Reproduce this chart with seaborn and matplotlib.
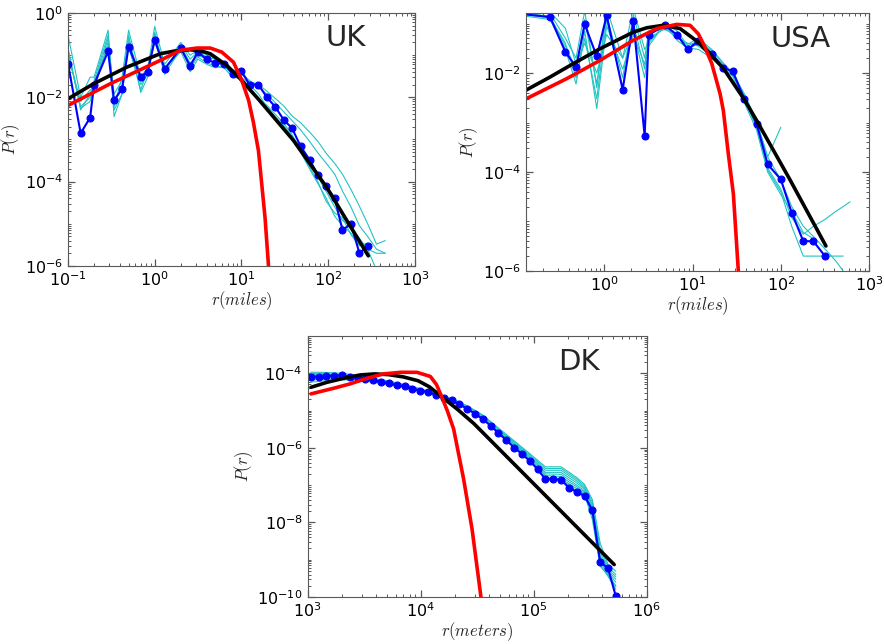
import numpy as np
import matplotlib
matplotlib.use('Agg')
import matplotlib.pyplot as plt
from matplotlib.ticker import LogLocator, NullFormatter
import seaborn as sns

sns.set_style('ticks', {'xtick.direction': 'in', 'ytick.direction': 'in',
                        'xtick.top': True, 'ytick.right': True,
                        'axes.edgecolor': '0.35'})
plt.rcParams['mathtext.fontset'] = 'cm'
plt.rcParams['font.family'] = ['DejaVu Sans']

CYAN = '#22c3c3'

# ---------------- UK (miles) ----------------
uk_r = [0.10, 0.14, 0.18, 0.20, 0.29, 0.34, 0.42, 0.50, 0.69, 0.83, 1.0, 1.3, 2.0, 2.56, 3.14,
        4.0, 5.0, 6.3, 7.9, 10.0, 12.4, 15.7, 19.6, 24.4, 30.8, 38.3, 48.0, 61.0, 76.0, 94.0,
        119.0, 146.0, 183.0, 229.0, 285.0, 360.0, 455.0]
uk_blue = [6.3e-2, 1.4e-3, 3.3e-3, 2.0e-2, 1.23e-1, 8.4e-3, 1.6e-2, 1.6e-1, 3.1e-2, 4.0e-2,
           2.3e-1, 4.7e-2, 1.47e-1, 5.5e-2, 1.18e-1, 7.9e-2, 6.5e-2, 6.3e-2, 3.6e-2, 4.1e-2,
           2.0e-2, 2.0e-2, 1.0e-2, 6.0e-3, 2.9e-3, 1.85e-3, 6.9e-4, 3.3e-4, 1.43e-4, 8.0e-5,
           4.0e-5, 7.1e-6, 1.0e-5, 2.0e-6, 3.0e-6]
uk_c1 = [3.0e-1, 1.0e-2, 3.0e-2, 3.0e-2, 3.9e-1, 6.0e-3, 3.0e-2, 3.9e-1, 3.0e-2, 5.0e-2,
         4.8e-1, 6.0e-2, 2.0e-1, 1.0e-1, 1.3e-1, 1.0e-1, 8.5e-2, 7.0e-2, 4.5e-2, 4.0e-2,
         2.4e-2, 2.0e-2, 1.4e-2, 9.5e-3, 6.2e-3, 3.6e-3, 2.5e-3, 1.5e-3, 9.0e-4, 4.8e-4,
         2.7e-4, 1.5e-4, 6.5e-5, 2.6e-5, 1.0e-5, 3.3e-6, 4.0e-6]
uk_c2 = [1.5e-1, 5.0e-3, 1.2e-2, 2.5e-2, 3.0e-1, 3.5e-3, 1.2e-2, 3.0e-1, 1.3e-2, 3.0e-2,
         3.5e-1, 4.0e-2, 1.8e-1, 8.0e-2, 1.2e-1, 9.0e-2, 8.0e-2, 6.5e-2, 3.5e-2, 3.5e-2,
         2.5e-2, 1.7e-2, 1.2e-2, 7.5e-3, 4.5e-3, 2.8e-3, 1.7e-3, 9.0e-4, 4.8e-4, 2.8e-4,
         1.5e-4, 6.0e-5, 2.5e-5, 9.0e-6, 5.0e-6, 2.5e-6, 2.0e-6]
uk_c3 = [1.3e-1, 5.5e-3, 8.0e-3, 2.0e-2, 2.5e-1, 8.0e-3, 1.8e-2, 2.5e-1, 2.0e-2, 3.5e-2,
         3.0e-1, 4.5e-2, 1.6e-1, 6.5e-2, 1.0e-1, 8.0e-2, 6.5e-2, 6.0e-2, 3.2e-2, 3.0e-2,
         2.0e-2, 1.2e-2, 6.0e-3, 3.5e-3, 2.1e-3, 1.2e-3, 6.5e-4, 2.6e-4, 1.3e-4, 6.0e-5,
         2.5e-5, 1.2e-5, 8.5e-6, 4.5e-6, 2.5e-6, 8.0e-7]
uk_c4 = [1.0e-1, 8.0e-3, 1.5e-2, 1.5e-2, 2.0e-1, 1.2e-2, 2.5e-2, 2.0e-1, 2.5e-2, 4.0e-2,
         2.5e-1, 3.5e-2, 1.4e-1, 5.0e-2, 9.0e-2, 6.5e-2, 5.5e-2, 5.0e-2, 3.0e-2, 2.8e-2,
         1.7e-2, 9.0e-3, 5.5e-3, 3.0e-3, 1.8e-3, 1.0e-3, 5.0e-4, 2.0e-4, 9.0e-5, 4.2e-5,
         1.5e-5, 9.0e-6, 6.0e-6, 3.2e-6, 2.5e-6, 2.0e-6, 2.0e-6]
uk_c5 = [1.2e-1, 6.0e-3, 1.0e-2, 2.2e-2, 1.6e-1, 5.0e-3, 1.2e-2, 1.6e-1, 1.5e-2, 4.5e-2,
         2.0e-1, 5.0e-2, 1.2e-1, 4.0e-2, 8.0e-2, 6.0e-2, 5.0e-2, 5.5e-2, 4.0e-2, 2.5e-2,
         1.5e-2, 8.5e-3, 6.5e-3, 4.0e-3, 2.4e-3, 1.3e-3, 5.5e-4, 2.2e-4, 1.0e-4, 3.5e-5,
         1.8e-5, 1.4e-5, 5.5e-6, 3.0e-6, 3.5e-6]
uk_fit_r = [0.10, 0.198, 0.478, 1.16, 1.7, 2.56, 3.3, 4.36, 6.78, 9.66, 15.7, 39.7, 96.0, 290.0]
uk_fit = [9.2e-3, 2.1e-2, 5.2e-2, 1.08e-1, 1.25e-1, 1.34e-1, 1.28e-1, 1.08e-1, 5.7e-2, 2.75e-2,
          9.0e-3, 9.5e-4, 7.3e-5, 1.74e-6]
uk_gauss_r = [0.10, 0.308, 1.16, 1.97, 3.06, 4.36, 5.93, 8.09, 10.1, 12.1, 13.7, 15.7, 18.7, 20.5, 21.5]
uk_gauss = [6.4e-3, 2.1e-2, 7.5e-2, 1.3e-1, 1.47e-1, 1.47e-1, 1.18e-1, 6.8e-2, 2.5e-2, 8.4e-3,
            2.6e-3, 5.4e-4, 1.4e-5, 1.0e-6, 2.0e-7]

# ---------------- USA (miles) ----------------
us_r = [0.10, 0.242, 0.361, 0.477, 0.598, 0.819, 1.06, 1.61, 2.13, 2.86, 3.18, 4.87, 6.72, 8.80,
        11.6, 16.5, 22.3, 28.5, 38.6, 53.2, 71.0, 100.0, 133.0, 180.0, 234.0, 317.0, 420.0,
        510.0, 610.0]
us_blue = [1.6e-1, 1.35e-1, 2.66e-2, 1.32e-2, 9.6e-2, 2.17e-2, 1.46e-1, 4.6e-3, 1.11e-1, 5.3e-4,
           5.9e-2, 9.2e-2, 5.8e-2, 3.0e-2, 4.4e-2, 2.46e-2, 1.28e-2, 1.08e-2, 3.0e-3, 9.5e-4,
           1.43e-4, 7.1e-5, 1.51e-5, 4.0e-6, 4.0e-6, 2.0e-6]
us_c1 = [1.8e-1, 1.6e-1, 5.0e-2, 2.0e-2, 1.8e-1, 5.0e-3, 2.0e-1, 2.0e-2, 2.0e-1, 3.0e-2,
         4.0e-2, 1.0e-1, 7.0e-2, 3.5e-2, 4.5e-2, 2.8e-2, 1.5e-2, 9.0e-3, 3.5e-3, 1.0e-3,
         2.0e-4, 8.0e-4]
us_c2 = [1.5e-1, 1.2e-1, 3.0e-2, 6.0e-3, 7.0e-2, 1.9e-3, 9.0e-2, 1.2e-2, 6.0e-2, 1.5e-2,
         5.0e-2, 8.0e-2, 5.0e-2, 4.0e-2, 3.5e-2, 2.2e-2, 1.4e-2, 9.5e-3, 2.8e-3, 8.0e-4,
         1.2e-4, 4.5e-5, 1.2e-5, 5.5e-6, 8.0e-6, 1.1e-5, 1.6e-5, 2.0e-5, 2.5e-5]
us_c3 = [1.7e-1, 1.4e-1, 3.5e-2, 1.2e-2, 1.2e-1, 6.0e-3, 1.5e-1, 8.0e-3, 1.5e-1, 2.0e-2,
         7.0e-2, 7.5e-2, 6.0e-2, 3.0e-2, 4.0e-2, 2.5e-2, 1.2e-2, 1.15e-2, 3.2e-3, 9.0e-4,
         1.1e-4, 4.0e-5, 8.0e-6, 2.0e-6, 2.0e-6, 2.0e-6, 2.0e-6, 2.0e-6]
us_c4 = [1.6e-1, 1.3e-1, 4.0e-2, 8.0e-3, 5.0e-2, 3.0e-3, 1.2e-1, 5.0e-3, 1.0e-1, 1.2e-2,
         4.5e-2, 8.5e-2, 5.5e-2, 3.8e-2, 5.0e-2, 3.0e-2, 1.6e-2, 1.0e-2, 3.8e-3, 1.1e-3,
         2.0e-4, 7.0e-5, 2.0e-5, 8.0e-6, 5.0e-6, 2.8e-6, 1.6e-6, 1.0e-6]
us_c5 = [2.0e-1, 1.7e-1, 8.0e-2, 1.5e-2, 4.0e-2, 1.0e-2, 6.0e-2, 2.0e-2, 7.0e-2, 8.0e-3,
         3.5e-2, 1.0e-1, 4.5e-2, 3.2e-2, 3.0e-2, 2.0e-2, 1.3e-2, 8.5e-3, 2.5e-3, 7.0e-4,
         1.0e-4, 3.5e-5, 1.6e-5, 6.0e-6, 4.5e-6]
us_fit_r = [0.129, 0.242, 0.445, 0.893, 2.13, 3.02, 4.67, 7.21, 11.6, 22.3, 38.6, 53.2, 127.0, 325.0]
us_fit = [4.5e-3, 8.3e-3, 1.55e-2, 3.1e-2, 6.7e-2, 8.2e-2, 9.2e-2, 7.9e-2, 4.2e-2, 1.25e-2,
          2.9e-3, 1.1e-3, 7.0e-5, 3.2e-6]
us_gauss_r = [0.129, 0.374, 0.893, 2.13, 3.92, 6.61, 9.35, 11.6, 13.8, 16.5, 20.5, 22.3, 25.4,
              29.0, 33.0, 34.0]
us_gauss = [3.0e-3, 7.7e-3, 1.8e-2, 4.6e-2, 7.9e-2, 9.6e-2, 9.2e-2, 6.2e-2, 3.35e-2, 1.55e-2,
            3.8e-3, 1.76e-3, 2.35e-4, 3.6e-5, 1.0e-6, 3.0e-7]

# ---------------- DK (meters) ----------------
dk_r = [1064, 1248, 1464, 1717, 2014, 2362, 2770, 3249, 3810, 4469, 5241, 6147, 7210, 8456, 9917,
        11630, 13640, 16000, 18760, 22000, 25800, 30270, 35500, 41630, 48830, 57270, 67160, 78770,
        92380, 108300, 127100, 149000, 174800, 205000, 240400, 282000, 330700, 387800, 454900,
        533500]
dk_blue = [8.1e-5, 8.1e-5, 8.65e-5, 8.5e-5, 8.8e-5, 8.1e-5, 7.5e-5, 7.0e-5, 6.5e-5, 5.85e-5,
           5.4e-5, 4.85e-5, 4.47e-5, 3.87e-5, 3.42e-5, 3.15e-5, 2.67e-5, 2.17e-5, 1.88e-5,
           1.47e-5, 1.12e-5, 8.2e-6, 5.9e-6, 3.9e-6, 2.48e-6, 1.61e-6, 1.02e-6, 6.8e-7, 4.47e-7,
           2.67e-7, 1.44e-7, 1.44e-7, 1.38e-7, 8.6e-8, 6.55e-8, 5.1e-8, 2.15e-8, 8.6e-10,
           6.0e-10, 1.04e-10]
dk_rc = [1064, 1464, 2014, 2770, 3810, 5241, 7210, 9917, 13640, 18760, 25800, 35500, 48830, 67160,
         92380, 127100, 174800, 240400, 282000, 330700, 387800, 454900, 533500]
dk_c1 = [1.07e-4, 1.05e-4, 1.0e-4, 8.8e-5, 7.3e-5, 6.2e-5, 5.0e-5, 3.9e-5, 2.9e-5, 2.1e-5, 1.35e-5,
         7.6e-6, 3.4e-6, 1.55e-6, 7.0e-7, 3.1e-7, 3.1e-7, 1.6e-7, 1.05e-7, 4.1e-8, 2.8e-9, 7.5e-10,
         4.9e-10]
dk_c2 = [9.8e-5, 9.7e-5, 9.3e-5, 8.2e-5, 6.9e-5, 5.9e-5, 4.8e-5, 3.7e-5, 2.8e-5, 2.05e-5, 1.3e-5,
         7.2e-6, 3.2e-6, 1.45e-6, 6.5e-7, 2.8e-7, 2.8e-7, 1.45e-7, 9.5e-8, 3.5e-8, 2.0e-9, 6.5e-10,
         4.0e-10]
dk_c3 = [9.2e-5, 9.2e-5, 9.0e-5, 8.0e-5, 6.8e-5, 5.7e-5, 4.6e-5, 3.6e-5, 2.75e-5, 2.0e-5, 1.25e-5,
         6.9e-6, 3.0e-6, 1.35e-6, 6.0e-7, 2.5e-7, 2.5e-7, 1.3e-7, 8.5e-8, 3.0e-8, 1.6e-9, 5.5e-10,
         3.5e-10]
dk_c4 = [8.6e-5, 8.8e-5, 8.6e-5, 7.7e-5, 6.6e-5, 5.5e-5, 4.5e-5, 3.5e-5, 2.7e-5, 1.95e-5, 1.2e-5,
         6.6e-6, 2.85e-6, 1.25e-6, 5.6e-7, 2.2e-7, 2.2e-7, 1.15e-7, 7.8e-8, 2.6e-8, 1.3e-9, 5.0e-10,
         3.0e-10]
dk_c5 = [8.0e-5, 8.3e-5, 8.2e-5, 7.4e-5, 6.4e-5, 5.3e-5, 4.4e-5, 3.45e-5, 2.65e-5, 1.9e-5, 1.17e-5,
         6.3e-6, 2.7e-6, 1.18e-6, 5.2e-7, 2.0e-7, 1.95e-7, 1.0e-7, 7.0e-8, 2.2e-8, 1.1e-9, 4.5e-10,
         2.5e-10]
dk_c6 = [7.4e-5, 7.8e-5, 7.8e-5, 7.1e-5, 6.2e-5, 5.2e-5, 4.3e-5, 3.4e-5, 2.6e-5, 1.85e-5, 1.14e-5,
         6.1e-6, 2.6e-6, 1.12e-6, 4.9e-7, 1.8e-7, 1.7e-7, 9.0e-8, 6.5e-8, 1.8e-8, 9.0e-10, 4.0e-10,
         2.0e-10]
dk_c7 = [6.6e-5, 7.0e-5, 7.2e-5, 6.8e-5, 6.0e-5, 5.0e-5, 4.2e-5, 3.35e-5, 2.55e-5, 1.82e-5, 1.12e-5,
         6.0e-6, 2.55e-6, 1.08e-6, 4.6e-7, 1.6e-7, 1.5e-7, 8.0e-8, 6.0e-8, 1.5e-8, 7.5e-10, 3.6e-10,
         1.6e-10]
dk_c8 = [5.8e-5, 6.3e-5, 6.7e-5, 6.5e-5, 5.8e-5, 4.9e-5, 4.1e-5, 3.3e-5, 2.5e-5, 1.8e-5, 1.1e-5,
         5.9e-6, 2.5e-6, 1.05e-6, 4.5e-7, 1.5e-7, 1.4e-7, 7.0e-8, 5.6e-8, 1.2e-8, 6.7e-10, 3.8e-10,
         1.9e-10]
dk_fit_r = [1071, 1475, 2074, 2913, 3900, 5200, 7000, 9500, 12000, 14950, 21000, 29510, 516000]
dk_fit = [4.2e-5, 5.7e-5, 7.3e-5, 9.0e-5, 9.6e-5, 9.2e-5, 8.0e-5, 6.3e-5, 4.3e-5, 2.5e-5, 1.1e-5,
          4.5e-6, 7.4e-10]
dk_gauss_r = [1071, 1692, 2377, 3342, 4699, 6607, 9276, 12190, 13800, 15450, 17300, 19590, 24030,
              28540, 33810, 35500]
dk_gauss = [2.8e-5, 3.95e-5, 5.2e-5, 7.3e-5, 9.6e-5, 1.06e-4, 1.06e-4, 8.2e-5, 5.0e-5, 2.26e-5,
            9.5e-6, 3.2e-6, 1.43e-7, 6.5e-9, 1.28e-10, 4.0e-11]


def draw_panel(ax, cyan_r, cyan_lines, blue_r, blue_p, fit_r, fit_p, gauss_r, gauss_p,
               xlim, ylim, xticks, yticks, xlabel, name):
    ax.set_xscale('log')
    ax.set_yscale('log')
    for c in cyan_lines:
        sns.lineplot(x=cyan_r[:len(c)], y=c, ax=ax, color=CYAN, lw=0.8)
    sns.lineplot(x=blue_r[:len(blue_p)], y=blue_p, ax=ax, color='b', lw=1.5, marker='o',
                 markersize=5, markeredgecolor='b', markeredgewidth=0.8)
    sns.lineplot(x=fit_r, y=fit_p, ax=ax, color='k', lw=2.6)
    sns.lineplot(x=gauss_r, y=gauss_p, ax=ax, color='r', lw=2.6)
    ax.set_xlim(*xlim)
    ax.set_ylim(*ylim)
    ax.set_xticks(xticks)
    ax.set_yticks(yticks)
    ax.xaxis.set_minor_locator(LogLocator(base=10, subs=np.arange(1, 10) * 1.0, numticks=40))
    ax.yaxis.set_minor_locator(LogLocator(base=10, subs=np.arange(1, 10) * 1.0, numticks=40))
    ax.xaxis.set_minor_formatter(NullFormatter())
    ax.yaxis.set_minor_formatter(NullFormatter())
    ax.tick_params(which='both', colors='0.35', labelcolor='k', labelsize=11.5)
    ax.tick_params(which='major', length=5, width=0.9)
    ax.tick_params(which='minor', length=2.5, width=0.7)
    ax.tick_params(axis='x', pad=3)
    ax.set_xlabel(xlabel, fontsize=12, labelpad=0)
    ax.set_ylabel(r'$P(r)$', fontsize=12, labelpad=2)
    ax.text(0.8, 0.9, name, transform=ax.transAxes, fontsize=21, ha='center', va='center')


fig = plt.figure(figsize=(8.84, 6.44), dpi=100, facecolor='white')

ax_uk = fig.add_axes([0.0769, 0.587, 0.3925, 0.3929])
draw_panel(ax_uk, uk_r, [uk_c1, uk_c2, uk_c3, uk_c4, uk_c5], uk_r, uk_blue, uk_fit_r, uk_fit,
           uk_gauss_r, uk_gauss, (0.1, 1000), (1e-6, 1.0), [0.1, 1, 10, 100, 1000],
           [1e-6, 1e-4, 1e-2, 1.0], r'$r(miles)$', 'UK')

ax_us = fig.add_axes([0.595, 0.5792, 0.388, 0.4006])
draw_panel(ax_us, us_r, [us_c1, us_c2, us_c3, us_c4, us_c5], us_r, us_blue, us_fit_r, us_fit,
           us_gauss_r, us_gauss, (0.129, 1000), (1e-6, 0.163), [1, 10, 100, 1000],
           [1e-6, 1e-4, 1e-2], r'$r(miles)$', 'USA')

ax_dk = fig.add_axes([0.348, 0.073, 0.3835, 0.4053])
draw_panel(ax_dk, dk_rc, [dk_c1, dk_c2, dk_c3, dk_c4, dk_c5, dk_c6, dk_c7, dk_c8], dk_r, dk_blue,
           dk_fit_r, dk_fit, dk_gauss_r, dk_gauss, (1e3, 1e6), (1e-10, 1e-3),
           [1e3, 1e4, 1e5, 1e6], [1e-10, 1e-8, 1e-6, 1e-4], r'$r(meters)$', 'DK')

fig.savefig('out.png', dpi=100, facecolor='white')
